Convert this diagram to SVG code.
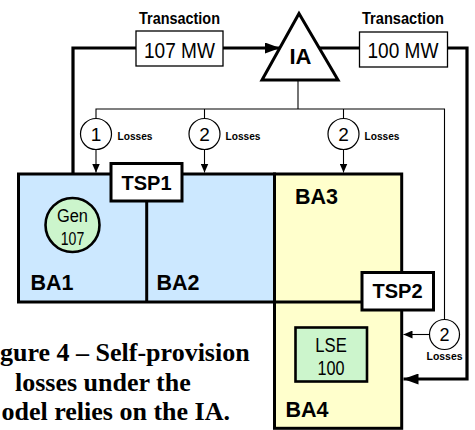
<svg xmlns="http://www.w3.org/2000/svg" width="475" height="430" viewBox="0 0 475 430">
<defs>
<style>
.sans{font-family:"Liberation Sans Narrow","Liberation Sans",Arial,sans-serif}
.bold{font-family:"Liberation Sans",Arial,sans-serif;font-weight:bold}
.thick{fill:none;stroke:#000;stroke-width:3.2}
.thin{fill:none;stroke:#000;stroke-width:1.1}
.box{fill:#fff;stroke:#000;stroke-width:1.3}
.tsp{fill:#fff;stroke:#000;stroke-width:3}
.loss{fill:#fff;stroke:#000;stroke-width:1.2}
.cap{font-family:"Liberation Serif","Times New Roman",serif;font-weight:bold;font-size:26px;fill:#000}
</style>
<marker id="aSmall" viewBox="0 0 10 10" refX="10" refY="5" markerUnits="userSpaceOnUse" markerWidth="9" markerHeight="8" orient="auto" preserveAspectRatio="none"><path d="M0,0 L10,5 L0,10 z" fill="#000"/></marker>
<marker id="aBig" viewBox="0 0 10 10" refX="10" refY="5" markerUnits="userSpaceOnUse" markerWidth="15" markerHeight="11" orient="auto" preserveAspectRatio="none"><path d="M0,0 L10,5 L0,10 z" fill="#000"/></marker>
</defs>
<rect width="475" height="430" fill="#fff"/>

<g id="areas">
<g id="BA1-BA2">
<rect x="18.5" y="174" width="256" height="128" fill="#cce8ff" stroke="#000" stroke-width="3"/>
<line x1="146.7" y1="190" x2="146.7" y2="302" stroke="#000" stroke-width="3"/>
</g>
<g id="BA3-BA4">
<rect x="274.5" y="174" width="127.2" height="254.3" fill="#ffffcc" stroke="#000" stroke-width="3"/>
<line x1="274.5" y1="302" x2="362" y2="302" stroke="#000" stroke-width="3"/>
</g>
</g>

<g id="connectors">
<path class="thick" d="M73,174 V48 H136"/>
<path class="thick" d="M223,48 H280" marker-end="url(#aBig)"/>
<path class="thick" d="M317,48 H359.5"/>
<path class="thick" d="M447.5,48 H467 V379 H403.5" marker-end="url(#aBig)"/>
<path class="thin" d="M298,80 V109"/>
<path class="thin" d="M96,118.5 V109 H444.5 V320"/>
<path class="thin" d="M204.5,109 V118.5"/>
<path class="thin" d="M343.5,109 V118.5"/>
<path class="thin" d="M96,149.5 V172.5" marker-end="url(#aSmall)"/>
<path class="thin" d="M204.5,149.5 V172.5" marker-end="url(#aSmall)"/>
<path class="thin" d="M343.5,149.5 V172.5" marker-end="url(#aSmall)"/>
<path class="thin" d="M429.5,334.5 H403.5" marker-end="url(#aSmall)"/>
</g>

<g id="tx1">
<text class="bold" x="179.5" y="24" font-size="17" text-anchor="middle" textLength="81" lengthAdjust="spacingAndGlyphs">Transaction</text>
<rect class="box" x="136" y="31" width="87" height="35"/>
<text class="sans" x="179.5" y="57.5" font-size="22" text-anchor="middle" textLength="71" lengthAdjust="spacingAndGlyphs">107 MW</text>
</g>
<g id="tx2">
<text class="bold" x="403" y="24" font-size="17" text-anchor="middle" textLength="82" lengthAdjust="spacingAndGlyphs">Transaction</text>
<rect class="box" x="359.5" y="32" width="88" height="35"/>
<text class="sans" x="403" y="57.5" font-size="22" text-anchor="middle" textLength="71" lengthAdjust="spacingAndGlyphs">100 MW</text>
</g>

<g id="IA">
<polygon points="299,13.5 262,80 338,80" fill="#fff" stroke="#000" stroke-width="3" stroke-linejoin="miter"/>
<text class="bold" x="300.5" y="63.5" font-size="22" text-anchor="middle">IA</text>
</g>

<g id="loss1">
<circle class="loss" cx="96" cy="134" r="15.5"/>
<text class="sans" x="96" y="141" font-size="19" text-anchor="middle">1</text>
<text class="bold" x="117.5" y="139.5" font-size="11.5" textLength="35" lengthAdjust="spacingAndGlyphs">Losses</text>
</g>
<g id="loss2">
<circle class="loss" cx="204.5" cy="134" r="15.5"/>
<text class="sans" x="204.5" y="141" font-size="19" text-anchor="middle">2</text>
<text class="bold" x="225.5" y="139.5" font-size="11.5" textLength="35" lengthAdjust="spacingAndGlyphs">Losses</text>
</g>
<g id="loss3">
<circle class="loss" cx="343.5" cy="134" r="15.5"/>
<text class="sans" x="343.5" y="141" font-size="19" text-anchor="middle">2</text>
<text class="bold" x="364.5" y="139.5" font-size="11.5" textLength="35" lengthAdjust="spacingAndGlyphs">Losses</text>
</g>
<g id="loss4">
<circle class="loss" cx="444.5" cy="334.5" r="15"/>
<text class="sans" x="444.5" y="341" font-size="18" text-anchor="middle">2</text>
<text class="bold" x="444.5" y="360" font-size="11.5" text-anchor="middle" textLength="36" lengthAdjust="spacingAndGlyphs">Losses</text>
</g>

<g id="TSP1">
<rect class="tsp" x="111" y="163.5" width="71" height="37.5"/>
<text class="bold" x="146.5" y="190" font-size="20" text-anchor="middle">TSP1</text>
</g>
<g id="TSP2">
<rect class="tsp" x="362" y="272.5" width="71.5" height="37.5"/>
<text class="bold" x="397.5" y="298" font-size="20" text-anchor="middle">TSP2</text>
</g>

<g id="Gen">
<circle cx="72.5" cy="225" r="27" fill="#ccf5cc" stroke="#000" stroke-width="2.6"/>
<text class="sans" x="72.5" y="221.5" font-size="18" text-anchor="middle" textLength="31" lengthAdjust="spacingAndGlyphs">Gen</text>
<text class="sans" x="72.5" y="245" font-size="18" text-anchor="middle" textLength="23.5" lengthAdjust="spacingAndGlyphs">107</text>
</g>
<g id="LSE">
<rect x="295.5" y="327.5" width="71.5" height="54" fill="#ccf5cc" stroke="#000" stroke-width="2.6"/>
<text class="sans" x="331" y="351.5" font-size="20" text-anchor="middle" textLength="31.5" lengthAdjust="spacingAndGlyphs">LSE</text>
<text class="sans" x="331" y="375" font-size="20" text-anchor="middle" textLength="27" lengthAdjust="spacingAndGlyphs">100</text>
</g>

<g id="labels">
<text class="bold" x="30.5" y="289.5" font-size="21.5">BA1</text>
<text class="bold" x="156.5" y="289.5" font-size="21.5">BA2</text>
<text class="bold" x="295" y="203.5" font-size="21.5">BA3</text>
<text class="bold" x="285.5" y="417" font-size="21.5">BA4</text>
</g>

<g id="caption">
<text class="cap" x="0" y="361">gure 4 – Self-provision</text>
<text class="cap" x="15" y="390.5">losses under the</text>
<text class="cap" x="1.5" y="420">odel relies on the IA.</text>
</g>
</svg>
